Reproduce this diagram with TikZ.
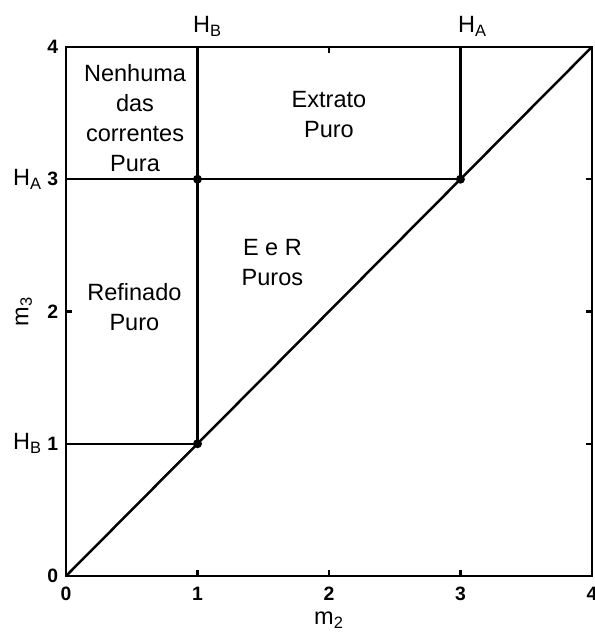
\documentclass[tikz,border=0pt]{standalone}
\usepackage{fontspec}
\setmainfont{Liberation Sans}
\begin{document}
\begin{tikzpicture}[x=3.34cm, y=3.36cm, line width=1.8pt,
  lbl/.style={font=\fontsize{17}{21.6}\selectfont, align=center},
  tk/.style={font=\fontsize{14}{16}\selectfont\bfseries, inner sep=0pt},
  hl/.style={font=\fontsize{17}{20}\selectfont, inner sep=0pt, anchor=base west},
  ax/.style={font=\fontsize{17}{20}\selectfont, inner sep=0pt},
  dot/.style={circle, fill, inner sep=0pt, minimum size=6.5pt}]
\useasboundingbox (-0.502,-0.461) rectangle (4.023,4.355);
% plot box
\coordinate (o) at (0,0);
\coordinate (tr) at (4,4);
\draw (o) rectangle (tr);
\foreach \i in {1,2,3} {
  \draw (\i,0) -- ++(0,0.045); \draw (\i,4) -- ++(0,-0.045);
  \draw (0,\i) -- ++(0.045,0); \draw (4,\i) -- ++(-0.045,0);
}
% region boundaries
\coordinate (l1) at (0,1);
\coordinate (l3) at (0,3);
\coordinate (t1) at (1,4);
\coordinate (t3) at (3,4);
\node[dot] (p11) at (1,1) {};
\node[dot] (p13) at (1,3) {};
\node[dot] (p33) at (3,3) {};
\draw (o) -- (tr);
\draw (l1) -- (p11.center) -- (t1);
\draw (l3) -- (p33.center) -- (t3);
% regions
\node[lbl] (none) at (0.525,3.46) {Nenhuma\\das\\correntes\\Pura};
\node[lbl] (ext) at (2.0,3.49) {Extrato\\Puro};
\node[lbl] (er) at (1.57,2.37) {E e R\\Puros};
\node[lbl] (ref) at (0.52,2.03) {Refinado\\Puro};
% ticks and axis names
\foreach \i in {0,...,4} {
  \node[tk] (x\i) at (\i,-0.135) {\i};
  \node[tk] (y\i) at (-0.1,\i) {\i};
}
\node[hl] (hbt) at (0.958,4.106) {H\textsubscript{B}};
\node[hl] (hat) at (2.973,4.106) {H\textsubscript{A}};
\node[hl] (hal) at (-0.411,2.95) {H\textsubscript{A}};
\node[hl] (hbl) at (-0.411,0.953) {H\textsubscript{B}};
\node[ax, anchor=base] (m2) at (2,-0.37) {m\textsubscript{2}};
\node[ax, rotate=90] (m3) at (-0.32,2) {m\textsubscript{3}};
\end{tikzpicture}
\end{document}
